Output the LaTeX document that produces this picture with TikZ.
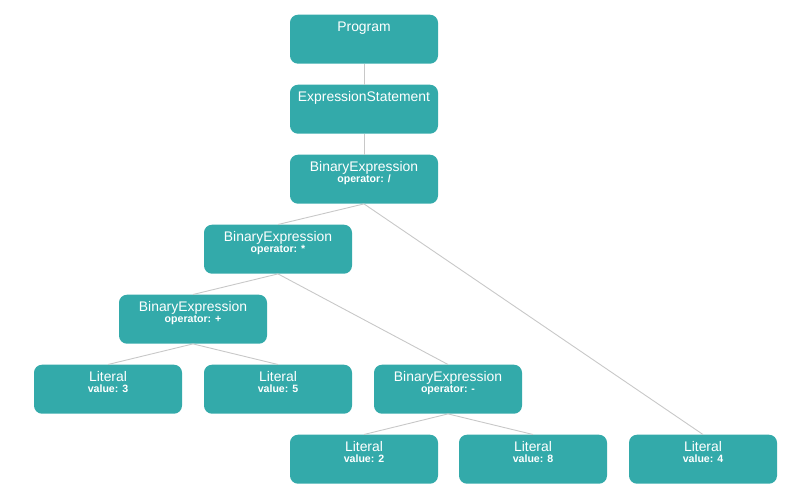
\documentclass[tikz,border=0pt]{standalone}
\usepackage{fontspec}
\setmainfont{Liberation Sans}
\definecolor{nodeteal}{HTML}{33AAAA}
\definecolor{edgegray}{HTML}{C8C8C8}
\tikzset{
  astbox/.style={draw=none, fill=nodeteal, rounded corners=8pt,
    minimum width=148pt, minimum height=49pt, inner sep=0pt},
  asttitle/.style={anchor=base, text=white, inner sep=0pt,
    font=\fontsize{13.9pt}{15pt}\selectfont},
  astsub/.style={anchor=base, text=white, inner sep=0pt,
    font=\fontsize{10.6pt}{12pt}\selectfont\bfseries},
  astedge/.style={draw=edgegray, line width=0.9pt},
}
% box name, centre x, top y, title, detail line
\newcommand{\astnode}[5]{%
  \node[astbox, anchor=north] (#1) at (#2,#3) {};
  \node[asttitle, yshift=-17pt] (#1-t) at (#1.north) {#4};
  \node[astsub, yshift=-28pt] (#1-s) at (#1.north) {#5};
}
\begin{document}
\begin{tikzpicture}[x=1pt,y=-1pt]
\useasboundingbox (0,0) rectangle (787,498);
\astnode{prog}{364}{14.5}{Program}{}
\astnode{stmt}{364}{84.5}{ExpressionStatement}{}
\astnode{div}{364}{154.5}{BinaryExpression}{operator: /}
\astnode{mul}{278}{224.5}{BinaryExpression}{operator: *}
\astnode{add}{193}{294.5}{BinaryExpression}{operator: +}
\astnode{lit3}{108}{364.5}{Literal}{value: 3}
\astnode{lit5}{278}{364.5}{Literal}{value: 5}
\astnode{sub}{448}{364.5}{BinaryExpression}{operator: -}
\astnode{lit2}{364}{434.5}{Literal}{value: 2}
\astnode{lit8}{533}{434.5}{Literal}{value: 8}
\astnode{lit4}{703}{434.5}{Literal}{value: 4}
% parent-to-child connectors
\draw[astedge] (prog.south) -- (stmt.north);
\draw[astedge] (stmt.south) -- (div.north);
\draw[astedge] (div.south) -- (mul.north);
\draw[astedge] (div.south) -- (lit4.north);
\draw[astedge] (mul.south) -- (add.north);
\draw[astedge] (mul.south) -- (sub.north);
\draw[astedge] (add.south) -- (lit3.north);
\draw[astedge] (add.south) -- (lit5.north);
\draw[astedge] (sub.south) -- (lit2.north);
\draw[astedge] (sub.south) -- (lit8.north);
\end{tikzpicture}
\end{document}
